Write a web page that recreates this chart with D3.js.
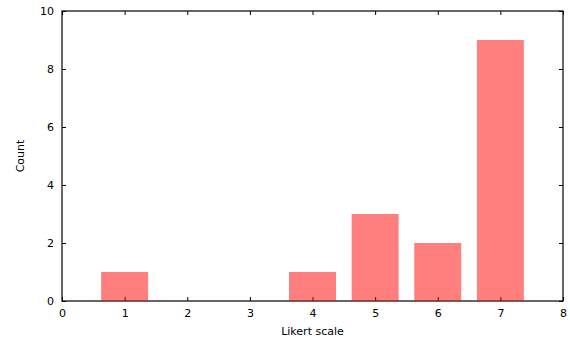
<!DOCTYPE html>
<html>
<head>
<meta charset="utf-8">
<script src="https://cdn.jsdelivr.net/npm/d3@7"></script>
<style>
  body { margin: 0; background: #fff; }
  text { font-family: "DejaVu Sans", sans-serif; font-size: 11px; fill: #000; }
</style>
</head>
<body>
<script>
// likert answers and how many got each
const likert = [1, 4, 5, 6, 7];
const counts = [1, 1, 3, 2, 9];
const xTicks = [0, 1, 2, 3, 4, 5, 6, 7, 8];
const yTicks = [0, 2, 4, 6, 8, 10];

const w = 570, h = 341;
const plotL = 62, plotR = 563, plotT = 11, plotB = 301;

const svg = d3.select('body').append('svg')
  .attr('width', w)
  .attr('height', h);

const x = d3.scaleLinear().domain([0, 8]).range([plotL, plotR]);
const y = d3.scaleLinear().domain([0, 10]).range([plotB, plotT]);
const barW = 0.75;

const tickLen = 4;

// axes, ticks pointing inward, mirrored
const xBottom = svg.append('g')
  .attr('transform', `translate(0,${plotB})`)
  .call(d3.axisBottom(x).tickValues(xTicks).tickSize(-tickLen).tickPadding(8).tickFormat(d3.format('d')));
const xTop = svg.append('g')
  .attr('transform', `translate(0,${plotT})`)
  .call(d3.axisTop(x).tickValues(xTicks).tickSize(-tickLen).tickFormat(''));
const yLeft = svg.append('g')
  .attr('transform', `translate(${plotL},0)`)
  .call(d3.axisLeft(y).tickValues(yTicks).tickSize(-tickLen).tickPadding(8).tickFormat(d3.format('d')));
const yRight = svg.append('g')
  .attr('transform', `translate(${plotR},0)`)
  .call(d3.axisRight(y).tickValues(yTicks).tickSize(-tickLen).tickFormat(''));

[xBottom, xTop, yLeft, yRight].forEach((g) => {
  g.select('.domain').remove();
  g.selectAll('line').attr('stroke', '#000');
  g.selectAll('text').style('font-size', '11px').attr('fill', '#000');
});

// border
svg.append('rect')
  .attr('x', plotL)
  .attr('y', plotT)
  .attr('width', plotR - plotL)
  .attr('height', plotB - plotT)
  .style('fill', 'none')
  .style('stroke', '#000')
  .style('stroke-width', 1.2);

// bars (semi transparent red, on top of frame like gnuplot)
svg.selectAll('rect.bar')
  .data(likert)
  .enter()
  .append('rect')
  .attr('class', 'bar')
  .attr('x', (d) => x(d - barW / 2))
  .attr('width', (d) => x(barW) - x(0))
  .attr('y', (d, i) => y(counts[i]))
  .attr('height', (d, i) => y(0) - y(counts[i]))
  .style('fill', 'red')
  .style('fill-opacity', 0.5);

// labels
svg.append('text')
  .attr('x', (plotL + plotR) / 2)
  .attr('y', 335)
  .attr('text-anchor', 'middle')
  .text('Likert scale');

svg.append('text')
  .attr('transform', `translate(24,${(plotT + plotB) / 2}) rotate(-90)`)
  .attr('text-anchor', 'middle')
  .text('Count');
</script>
</body>
</html>
